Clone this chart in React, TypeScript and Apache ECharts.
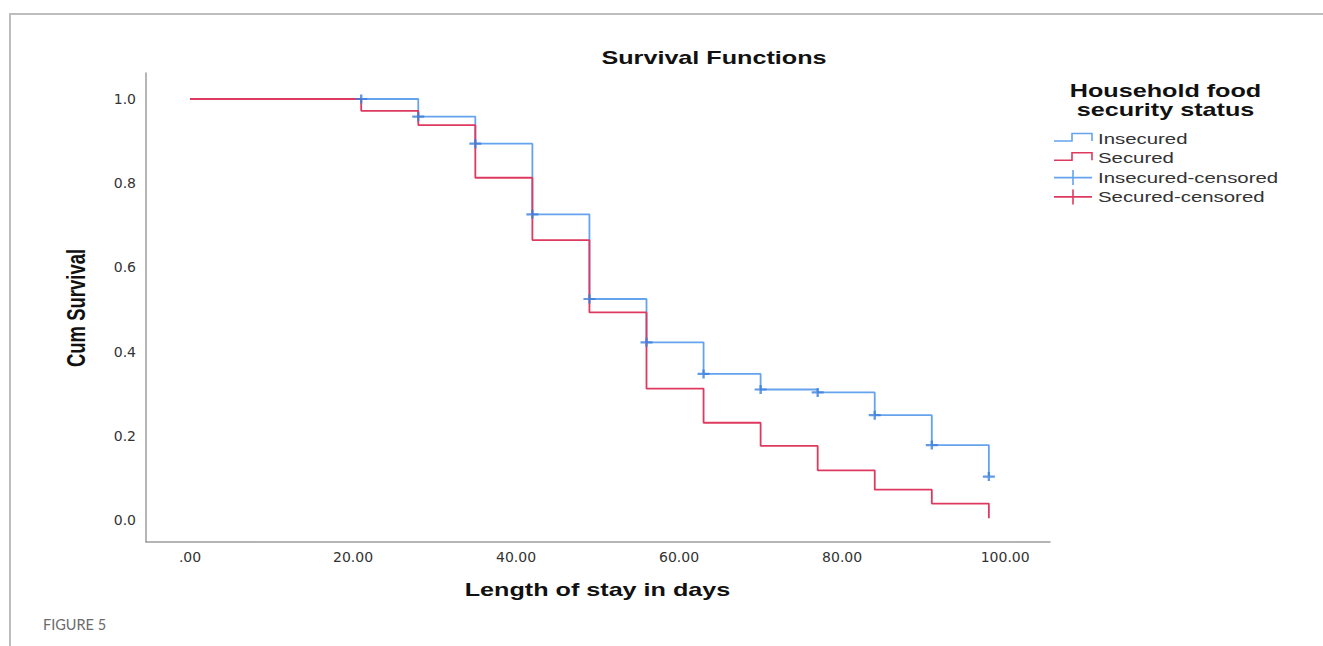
import React, { useEffect, useRef } from "react";
import * as echarts from "echarts";

// ---- data ----
const times = [0, 21, 28, 35, 42, 49, 56, 63, 70, 77, 84, 91, 98];
const insecured = [1.0, 1.0, 0.958, 0.894, 0.726, 0.525, 0.422, 0.347, 0.31, 0.303, 0.249, 0.178, 0.103];
const secured = [1.0, 0.972, 0.938, 0.813, 0.665, 0.493, 0.312, 0.231, 0.176, 0.118, 0.072, 0.039, 0.004];
const insecuredCensoredTimes = [21, 28, 35, 42, 49, 56, 63, 70, 77, 84, 91, 98];
const insecuredCensoredValues = [1.0, 0.958, 0.894, 0.726, 0.525, 0.422, 0.347, 0.31, 0.303, 0.249, 0.178, 0.103];
const securedCensoredTimes: number[] = [];
const securedCensoredValues: number[] = [];
const xTickValues = [0, 20, 40, 60, 80, 100];
const xTickLabels = [".00", "20.00", "40.00", "60.00", "80.00", "100.00"];
const yTickValues = [0, 0.2, 0.4, 0.6, 0.8, 1.0];
const yTickLabels = ["0.0", "0.2", "0.4", "0.6", "0.8", "1.0"];
const seriesNames = ["Insecured", "Secured", "Insecured-censored", "Secured-censored"];

const BLUE = "#66a3ee";
const BLUE_MARK = "#3b80dd";
const RED = "#de3a5f";
const STRETCH = 1.36;
const CROSS = "path://M0,3.4H12V5.6H0Z M4.8,0H7.2V9H4.8Z";

export default function App() {
  const ref = useRef<HTMLDivElement>(null);
  useEffect(() => {
    if (!ref.current) return;
    const chart = echarts.init(ref.current, undefined, { renderer: "svg" });
    const pair = (xs: number[], ys: number[]) => xs.map((x, i) => [x, ys[i]]);
    const textEl = (text: string, x: number, y: number, size: number, bold: boolean, color: string, align = "center", extra: any = {}) => ({
      type: "text",
      x,
      y,
      scaleX: STRETCH,
      silent: true,
      ...extra,
      style: {
        text,
        fontFamily: "Liberation Sans, Arial, sans-serif",
        fontSize: size,
        fontWeight: bold ? "bold" : "normal",
        fill: color,
        align,
        verticalAlign: "middle",
      },
    });
    const legendRows = [139, 158.3, 177.6, 196.9];
    chart.setOption({
      animation: false,
      backgroundColor: "#ffffff",
      grid: { left: 146, top: 73, right: 273, bottom: 104, containLabel: false },
      xAxis: {
        type: "value",
        min: -5.4,
        max: 105.5,
        splitLine: { show: false },
        axisTick: { show: false },
        axisLine: { show: true, onZero: false, lineStyle: { color: "#9c9c9c", width: 1.5 } },
        axisLabel: {
          customValues: xTickValues,
          formatter: (v: number) => xTickLabels[xTickValues.indexOf(Math.round(v))] ?? "",
          fontFamily: "DejaVu Sans",
          fontSize: 14,
          color: "#333",
          margin: 8,
        },
      },
      yAxis: {
        type: "value",
        min: -0.0523,
        max: 1.0618,
        splitLine: { show: false },
        axisTick: { show: false },
        axisLine: { show: true, onZero: false, lineStyle: { color: "#9c9c9c", width: 1.5 } },
        axisLabel: {
          customValues: yTickValues,
          formatter: (v: number) => yTickLabels[yTickValues.findIndex((t) => Math.abs(t - v) < 1e-6)] ?? "",
          fontFamily: "DejaVu Sans",
          fontSize: 14,
          color: "#333",
          margin: 10,
        },
      },
      series: [
        {
          name: seriesNames[0],
          type: "line",
          step: "end",
          showSymbol: false,
          data: pair(times, insecured),
          lineStyle: { color: BLUE, width: 1.8 },
          itemStyle: { color: BLUE },
          z: 2,
        },
        {
          name: seriesNames[1],
          type: "line",
          step: "end",
          showSymbol: false,
          data: pair(times, secured),
          lineStyle: { color: RED, width: 1.8 },
          itemStyle: { color: RED },
          z: 3,
        },
        {
          name: seriesNames[2],
          type: "scatter",
          symbol: CROSS,
          symbolSize: [12, 9],
          data: pair(insecuredCensoredTimes, insecuredCensoredValues),
          itemStyle: { color: BLUE_MARK },
          z: 4,
        },
        {
          name: seriesNames[3],
          type: "scatter",
          symbol: CROSS,
          symbolSize: [12, 9],
          data: pair(securedCensoredTimes, securedCensoredValues),
          itemStyle: { color: RED },
          z: 4,
        },
      ],
      graphic: [
        {
          type: "polyline",
          silent: true,
          shape: { points: [[10, 646], [10, 14], [1323, 14]] },
          style: { stroke: "#bdbdbd", lineWidth: 2, fill: "none" },
        },
        textEl("Survival Functions", 714, 58, 18.5, true, "#111"),
        textEl("Length of stay in days", 597.5, 590, 18.5, true, "#111"),
        {
          type: "text",
          x: 76,
          y: 308,
          rotation: Math.PI / 2,
          scaleY: STRETCH,
          silent: true,
          style: {
            text: "Cum Survival",
            fontFamily: "Liberation Sans, Arial, sans-serif",
            fontSize: 18.5,
            fontWeight: "bold",
            fill: "#111",
            align: "center",
            verticalAlign: "middle",
          },
        },
        textEl("Household food", 1165.5, 91, 18.5, true, "#111"),
        textEl("security status", 1165.5, 109.5, 18.5, true, "#111"),
        // legend icons
        {
          type: "polyline",
          silent: true,
          shape: { points: [[1054, legendRows[0] + 2], [1072, legendRows[0] + 2], [1072, legendRows[0] - 5.5], [1092, legendRows[0] - 5.5], [1092, legendRows[0] + 2]] },
          style: { stroke: BLUE, lineWidth: 1.6, fill: "none" },
        },
        {
          type: "polyline",
          silent: true,
          shape: { points: [[1054, legendRows[1] + 2], [1072, legendRows[1] + 2], [1072, legendRows[1] - 5.5], [1092, legendRows[1] - 5.5], [1092, legendRows[1] + 2]] },
          style: { stroke: RED, lineWidth: 1.6, fill: "none" },
        },
        { type: "line", silent: true, shape: { x1: 1054, y1: legendRows[2], x2: 1092, y2: legendRows[2] }, style: { stroke: BLUE, lineWidth: 1.6 } },
        { type: "line", silent: true, shape: { x1: 1073, y1: legendRows[2] - 7.5, x2: 1073, y2: legendRows[2] + 7.5 }, style: { stroke: BLUE, lineWidth: 1.6 } },
        { type: "line", silent: true, shape: { x1: 1054, y1: legendRows[3], x2: 1092, y2: legendRows[3] }, style: { stroke: RED, lineWidth: 1.6 } },
        { type: "line", silent: true, shape: { x1: 1073, y1: legendRows[3] - 7.5, x2: 1073, y2: legendRows[3] + 7.5 }, style: { stroke: RED, lineWidth: 1.6 } },
        textEl(seriesNames[0], 1098, legendRows[0], 15, false, "#333", "left"),
        textEl(seriesNames[1], 1098, legendRows[1], 15, false, "#333", "left"),
        textEl(seriesNames[2], 1098, legendRows[2], 15, false, "#333", "left"),
        textEl(seriesNames[3], 1098, legendRows[3], 15, false, "#333", "left"),
        {
          type: "text",
          x: 43,
          y: 624,
          silent: true,
          style: {
            text: "FIGURE 5",
            fontFamily: "Lato, sans-serif",
            fontSize: 14.5,
            fill: "#6b6b6b",
            align: "left",
            verticalAlign: "middle",
          },
        },
      ],
    });
    return () => chart.dispose();
  }, []);
  return (
    <div
      ref={ref}
      style={{ position: "absolute", left: 0, top: 0, width: 1323, height: 646, background: "#fff" }}
    />
  );
}
